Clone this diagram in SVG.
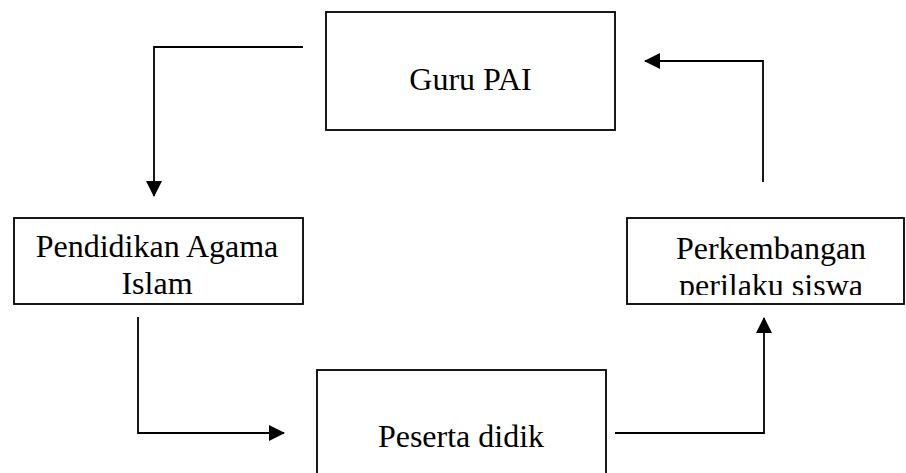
<svg xmlns="http://www.w3.org/2000/svg" width="906" height="473" viewBox="0 0 906 473">
<style>
.box{fill:#fff;stroke:#000;stroke-width:1.8}
.t{font-family:"Liberation Serif","Times New Roman",serif;font-size:32px;fill:#000;text-anchor:middle}
.c{fill:none;stroke:#000;stroke-width:1.8}
</style>
<defs>
<marker id="ah" markerUnits="userSpaceOnUse" markerWidth="16" markerHeight="16" refX="15" refY="8" orient="auto">
<path d="M0,0 L16,8 L0,16 z" fill="#000"/>
</marker>
<clipPath id="clipP"><rect x="627" y="218" width="279" height="77"/></clipPath>
</defs>
<g id="connectors">
<path class="c" d="M303,47 H154 V196" marker-end="url(#ah)"/>
<path class="c" d="M138,317 V433 H284" marker-end="url(#ah)"/>
<path class="c" d="M615,433 H764 V318" marker-end="url(#ah)"/>
<path class="c" d="M763,182 V61 H645" marker-end="url(#ah)"/>
</g>
<g id="guru">
<rect class="box" x="326" y="12" width="289" height="118"/>
<text class="t" x="470.5" y="90">Guru PAI</text>
</g>
<g id="pai">
<rect class="box" x="14" y="218" width="289" height="86"/>
<text class="t" x="157" y="257">Pendidikan Agama</text>
<text class="t" x="157" y="294">Islam</text>
</g>
<g id="peserta">
<rect class="box" x="317" y="370" width="289" height="110"/>
<text class="t" x="461" y="447">Peserta didik</text>
</g>
<g id="perkembangan">
<rect class="box" x="627" y="218" width="277" height="86"/>
<g clip-path="url(#clipP)">
<text class="t" x="771" y="259">Perkembangan</text>
<text class="t" x="771" y="296">perilaku siswa</text>
</g>
</g>
</svg>
